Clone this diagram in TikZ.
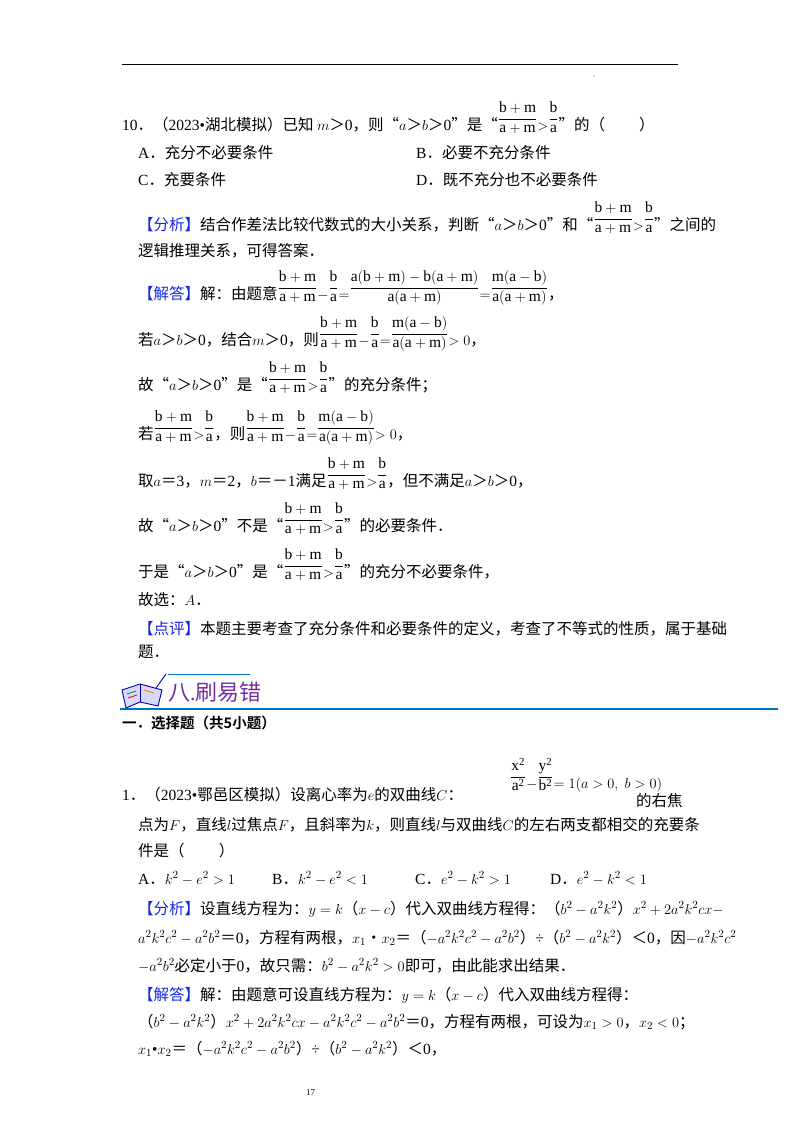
\documentclass[tikz,border=0pt]{standalone}
\usepackage{amsmath}
\usepackage{fontspec}
\setmainfont{Liberation Serif}
\newfontfamily\cjk{Noto Sans CJK SC}
\newfontfamily\cjkb{Noto Sans CJK SC Bold}
\XeTeXinterchartokenstate=1
\newXeTeXintercharclass\CJKcls
\makeatletter
\count255="4E00
\loop\XeTeXcharclass\count255=\CJKcls\advance\count255 1 \ifnum\count255<"A000 \repeat
\count255="3000
\loop\XeTeXcharclass\count255=\CJKcls\advance\count255 1 \ifnum\count255<"3040 \repeat
\count255="FF00
\loop\XeTeXcharclass\count255=\CJKcls\advance\count255 1 \ifnum\count255<"FFF0 \repeat
\XeTeXcharclass"201C=\CJKcls
\XeTeXcharclass"201D=\CJKcls
\makeatother
\newcommand\latinf{\fontspec{Liberation Serif}}
\XeTeXinterchartoks 0 \CJKcls = {\cjk}
\XeTeXinterchartoks 4095 \CJKcls = {\cjk}
\XeTeXinterchartoks \CJKcls 0 = {\latinf}
\newcommand\fr[2]{\raisebox{7.5pt}{$\dfrac{\mathrm{#1}}{\mathrm{#2}}$}}
\newcommand\FX{\fr{b+m}{a+m}$>$\fr{b}{a}}
\definecolor{tagblue}{RGB}{20,40,230}
\definecolor{lineblue}{RGB}{0,112,192}
\definecolor{titlep}{RGB}{112,48,160}
\newcommand\tg[1]{\textcolor{tagblue}{【#1】}}
\begin{document}
\begin{tikzpicture}[x=1pt,y=-1pt,
  tx/.style={anchor=base west,inner sep=0pt,font=\fontsize{15.5}{18}\selectfont}]
\useasboundingbox (0,0) rectangle (800,1132);
\fill[white] (0,0) rectangle (800,1132);
\draw[line width=0.8pt] (122,64) -- (678,64);
\fill (594,76) circle (0.5);
\node[tx] (q10) at (122,130) {10．（2023•湖北模拟）已知 $m$＞0，则“$a$＞$b$＞0”是“\FX”的（\hspace{2.2em}）};
\node[tx] (qa) at (138,158) {A．充分不必要条件};
\node[tx] (qb) at (416,158) {B．必要不充分条件};
\node[tx] (qc) at (138,185) {C．充要条件};
\node[tx] (qd) at (416,185) {D．既不充分也不必要条件};
\node[tx] (f1) at (138,230) {\tg{分析}结合作差法比较代数式的大小关系，判断“$a$＞$b$＞0”和“\FX”之间的};
\node[tx] (f2) at (138,256) {逻辑推理关系，可得答案．};
\node[tx] (j1) at (138,299) {\tg{解答}解：由题意\fr{b+m}{a+m}$-$\fr{b}{a}$=$\fr{a(b+m)-b(a+m)}{a(a+m)}$=$\fr{m(a-b)}{a(a+m)}，};
\node[tx] (j2) at (138,345) {若$a$＞$b$＞0，结合$m$＞0，则\fr{b+m}{a+m}$-$\fr{b}{a}$=$\fr{m(a-b)}{a(a+m)}$>0$，};
\node[tx] (j3) at (138,390) {故“$a$＞$b$＞0”是“\FX”的充分条件；};
\node[tx] (j4) at (138,439) {若\FX，则\fr{b+m}{a+m}$-$\fr{b}{a}$=$\fr{m(a-b)}{a(a+m)}$>0$，};
\node[tx] (j5) at (138,486) {取$a$＝3，$m$＝2，$b$＝－1满足\FX，但不满足$a$＞$b$＞0，};
\node[tx] (j6) at (138,531) {故“$a$＞$b$＞0”不是“\FX”的必要条件．};
\node[tx] (j7) at (138,577) {于是“$a$＞$b$＞0”是“\FX”的充分不必要条件，};
\node[tx] (j8) at (138,605) {故选：$A$．};
\node[tx] (p1) at (138,634) {\tg{点评}本题主要考查了充分条件和必要条件的定义，考查了不等式的性质，属于基础};
\node[tx] (p2) at (138,657) {题．};
% icon
\begin{scope}[line width=0.9pt,draw=blue!70!black]
\fill[blue!15] (122,690) -- (140,684) -- (162,690) -- (158,706) -- (140,702) -- (126,708) -- cycle;
\draw (122,690) -- (140,684) -- (162,690) -- (158,706) -- (140,702) -- (126,708) -- cycle;
\draw (140,684) -- (140,702);
\draw[green!60!black] (127,694) -- (136,691);
\draw[red] (128,698) -- (137,695);
\draw[orange] (144,690) -- (154,693);
\draw (156,688) -- (166,674);
\end{scope}
\draw[lineblue,line width=0.6pt] (168,674) -- (250,674);
\node[tx,font=\fontsize{22}{24}\selectfont,text=titlep] (ttl) at (168,700) {八.刷易错};
\draw[lineblue,line width=1.2pt] (120,709) -- (778,709);
\node[tx,font=\cjkb\fontsize{14.5}{16}\selectfont] (sec) at (122,728) {\XeTeXinterchartokenstate=0 一．选择题（共5小题）};
\node[tx] (e1) at (122,800) {1．（2023•鄂邑区模拟）设离心率为$e$的双曲线$C$：};
\node[tx] (eq) at (510,788) {\fr{x^2}{a^2}$-$\fr{y^2}{b^2}$=1(a>0,\ b>0)$};
\node[tx] (e1b) at (636,806) {的右焦};
\node[tx] (e2) at (138,830) {点为$F$，直线$l$过焦点$F$，且斜率为$k$，则直线$l$与双曲线$C$的左右两支都相交的充要条};
\node[tx] (e3) at (138,856) {件是（\hspace{2.2em}）};
\node[tx] (ea) at (138,884) {A．$k^2-e^2>1$};
\node[tx] (eb) at (272,884) {B．$k^2-e^2<1$};
\node[tx] (ec) at (415,884) {C．$e^2-k^2>1$};
\node[tx] (ed) at (550,884) {D．$e^2-k^2<1$};
\node[tx] (g1) at (138,914) {\tg{分析}设直线方程为：$y=k$（$x-c$）代入双曲线方程得：（$b^2-a^2k^2$）$x^2+2a^2k^2cx-$};
\node[tx] (g2) at (138,943) {$a^2k^2c^2-a^2b^2$＝0，方程有两根，$x_1$•$x_2$＝（$-a^2k^2c^2-a^2b^2$）÷（$b^2-a^2k^2$）＜0，因$-a^2k^2c^2$};
\node[tx] (g3) at (138,971) {$-a^2b^2$必定小于0，故只需：$b^2-a^2k^2>0$即可，由此能求出结果．};
\node[tx] (h1) at (138,1000) {\tg{解答}解：由题意可设直线方程为：$y=k$（$x-c$）代入双曲线方程得：};
\node[tx] (h2) at (138,1027) {（$b^2-a^2k^2$）$x^2+2a^2k^2cx-a^2k^2c^2-a^2b^2$＝0，方程有两根，可设为$x_1>0$，$x_2<0$；};
\node[tx] (h3) at (138,1054) {$x_1$•$x_2$＝（$-a^2k^2c^2-a^2b^2$）÷（$b^2-a^2k^2$）＜0，};
\node[tx,font=\fontsize{9}{11}\selectfont] (pg) at (306,1095) {17};
\end{tikzpicture}
\end{document}
